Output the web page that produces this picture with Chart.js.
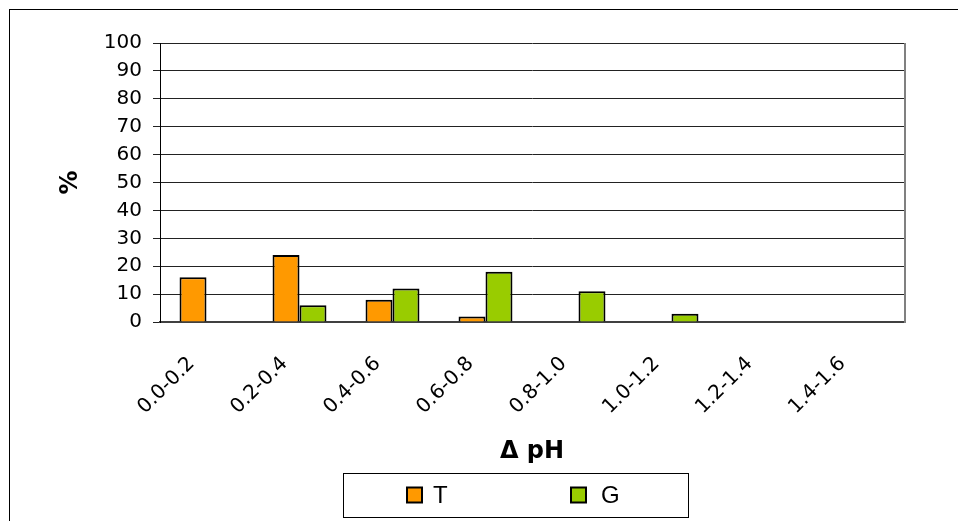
<!DOCTYPE html>
<html>
<head>
<meta charset="utf-8">
<script src="https://cdn.jsdelivr.net/npm/chart.js@4/dist/chart.umd.min.js"></script>
<style>
  html, body { margin: 0; padding: 0; background: #fff; }
  #wrap { width: 958px; height: 521px; }
</style>
</head>
<body>
<div id="wrap"><canvas id="c" width="958" height="521"></canvas></div>
<script>
// Distribution of pH change, in percent of samples per interval
const categories = ['0.0-0.2', '0.2-0.4', '0.4-0.6', '0.6-0.8', '0.8-1.0', '1.0-1.2', '1.2-1.4', '1.4-1.6'];
const seriesT = [16, 24, 8, 2, 0, 0, 0, 0];
const seriesG = [0, 6, 12, 18, 11, 3, 0, 0];
const seriesNames = ['T', 'G'];
const seriesColors = ['#FF9900', '#99CC00'];
const yTicks = [0, 10, 20, 30, 40, 50, 60, 70, 80, 90, 100];

const FONT = "'Liberation Sans', Arial, sans-serif";
const TICK_FONT = "'DejaVu Sans', sans-serif";

// Outer frame, plot right border and a boxed legend
const framePlugin = {
  id: 'frame',
  beforeDraw(chart) {
    const ctx = chart.ctx;
    ctx.save();
    ctx.fillStyle = '#fff';
    ctx.fillRect(0, 0, chart.width, chart.height);
    ctx.strokeStyle = '#000';
    ctx.lineWidth = 1;
    ctx.strokeRect(9.5, 9.5, chart.width + 20, chart.height + 20);
    ctx.restore();
  },
  afterDraw(chart) {
    const ctx = chart.ctx;
    const a = chart.chartArea;
    ctx.save();
    // right edge of the plot
    ctx.strokeStyle = '#808080';
    ctx.lineWidth = 2;
    ctx.beginPath();
    ctx.moveTo(a.right + 1, a.top);
    ctx.lineTo(a.right + 1, a.bottom + 1);
    ctx.stroke();

    // legend box
    const box = { x: 343.5, y: 473.5, w: 345, h: 44 };
    ctx.strokeStyle = '#000';
    ctx.lineWidth = 1;
    ctx.strokeRect(box.x, box.y, box.w, box.h);
    const swatchX = [407, 571];
    const textX = [433, 601];
    const cy = box.y + box.h / 2;
    ctx.font = '24px ' + FONT;
    ctx.textBaseline = 'middle';
    ctx.textAlign = 'left';
    chart.data.datasets.forEach((ds, i) => {
      const sx = swatchX[i];
      ctx.fillStyle = ds.backgroundColor;
      ctx.fillRect(sx, cy - 8, 15, 15);
      ctx.strokeStyle = '#000';
      ctx.lineWidth = 2;
      ctx.strokeRect(sx, cy - 8, 15, 15);
      ctx.fillStyle = '#000';
      ctx.fillText(ds.label, textX[i], cy + 1);
    });
    ctx.restore();
  }
};

new Chart(document.getElementById('c'), {
  type: 'bar',
  data: {
    labels: categories,
    datasets: [
      { label: seriesNames[0], data: seriesT, backgroundColor: seriesColors[0] },
      { label: seriesNames[1], data: seriesG, backgroundColor: seriesColors[1] }
    ]
  },
  options: {
    responsive: false,
    animation: false,
    devicePixelRatio: 1,
    layout: { padding: { left: 50, right: 54, top: 43, bottom: 51 } },
    datasets: {
      bar: {
        borderColor: '#000',
        borderWidth: 2,
        borderSkipped: 'start',
        categoryPercentage: 0.58,
        barPercentage: 1.0
      }
    },
    plugins: {
      legend: { display: false },
      tooltip: { enabled: false }
    },
    scales: {
      x: {
        grid: { display: false, drawTicks: false },
        border: { display: true, color: '#404040', width: 2 },
        ticks: {
          autoSkip: false,
          minRotation: 45,
          maxRotation: 45,
          padding: 30,
          labelOffset: -15,
          color: '#000',
          font: { family: TICK_FONT, size: 20 }
        },
        title: {
          display: true,
          text: 'Δ pH',
          color: '#000',
          font: { family: TICK_FONT, size: 24, weight: 'bold' },
          padding: { top: 0, bottom: 4 }
        },
        afterFit(scale) { scale.height = 148; }
      },
      y: {
        min: 0,
        max: 100,
        afterBuildTicks(scale) { scale.ticks = yTicks.map(v => ({ value: v })); },
        grid: { color: '#222', lineWidth: 1, tickLength: 7, drawTicks: true },
        border: { display: true, color: '#000', width: 1 },
        ticks: {
          autoSkip: false,
          padding: 11,
          color: '#000',
          font: { family: TICK_FONT, size: 20 }
        },
        title: {
          display: true,
          text: '%',
          color: '#000',
          font: { family: TICK_FONT, size: 24, weight: 'bold' },
          padding: { top: 6, bottom: 0 }
        },
        afterFit(scale) { scale.width = 110; }
      }
    }
  },
  plugins: [framePlugin]
});
</script>
</body>
</html>
